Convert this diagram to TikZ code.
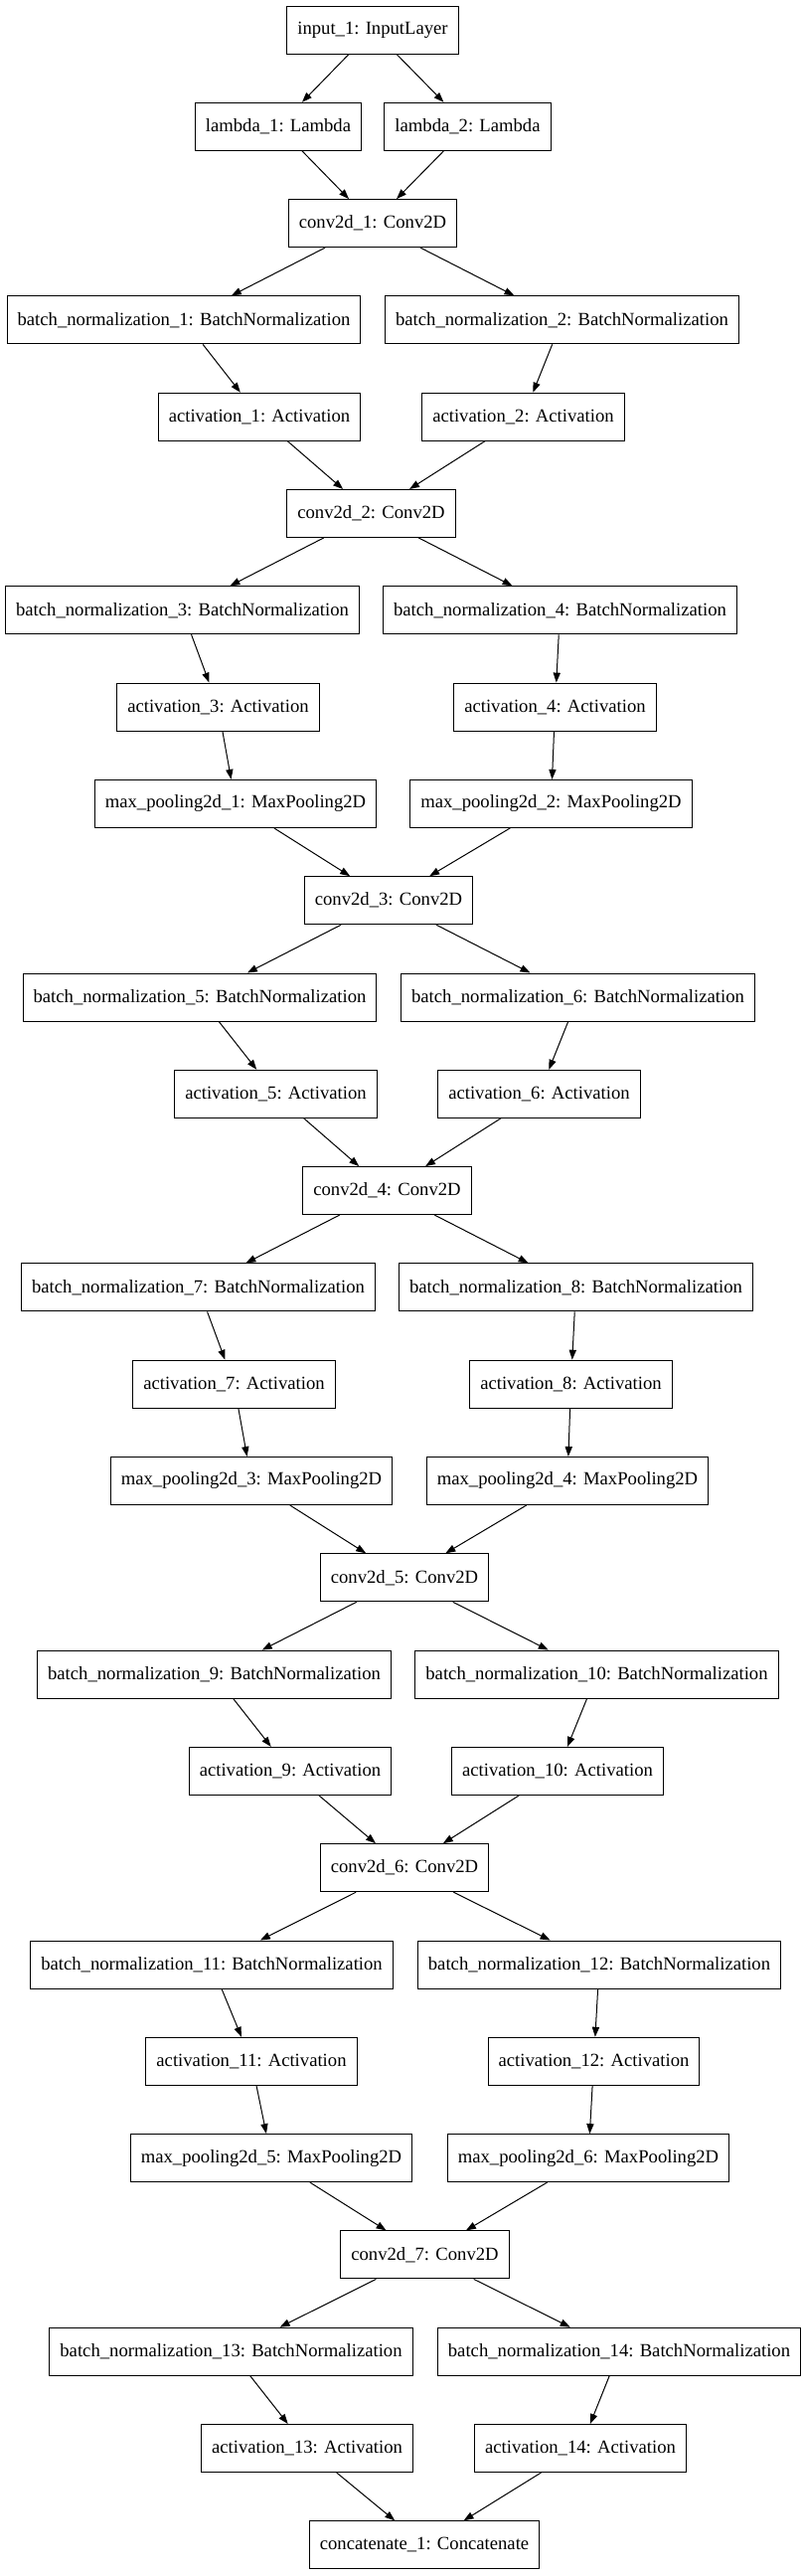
\documentclass[tikz,border=0pt]{standalone}
\usepackage{fontspec}
\setmainfont{Liberation Serif}
\usetikzlibrary{arrows.meta}

\tikzset{
  layerbox/.style={draw,line width=0.75pt,rectangle,minimum height=36pt,
    inner xsep=7.9pt,inner ysep=2pt,font=\fontsize{14pt}{16pt}\selectfont},
  flow/.style={-{Triangle[length=7.5pt,width=5.4pt]},line width=0.75pt}
}

\begin{document}
\begin{tikzpicture}[x=0.75pt,y=-0.75pt]
  \useasboundingbox (0,0) rectangle (807,2591);

  % 输入与 Lambda
  \node[layerbox] (inp)  at (375,30)      {input\_1: InputLayer};
  \node[layerbox] (lam1) at (280,127.3)   {lambda\_1: Lambda};
  \node[layerbox] (lam2) at (470.5,127.3) {lambda\_2: Lambda};

  % 第一块
  \node[layerbox] (conv1) at (375,224.6)   {conv2d\_1: Conv2D};
  \node[layerbox] (bn1)   at (185,321.9)   {batch\_normalization\_1: BatchNormalization};
  \node[layerbox] (bn2)   at (565.5,321.9) {batch\_normalization\_2: BatchNormalization};
  \node[layerbox] (act1)  at (261,419.2)   {activation\_1: Activation};
  \node[layerbox] (act2)  at (526.5,419.2) {activation\_2: Activation};

  % 第二块
  \node[layerbox] (conv2) at (373.5,516.5) {conv2d\_2: Conv2D};
  \node[layerbox] (bn3)   at (183.5,613.8) {batch\_normalization\_3: BatchNormalization};
  \node[layerbox] (bn4)   at (563.5,613.8) {batch\_normalization\_4: BatchNormalization};
  \node[layerbox] (act3)  at (219.5,711.1) {activation\_3: Activation};
  \node[layerbox] (act4)  at (558.5,711.1) {activation\_4: Activation};
  \node[layerbox] (mp1)   at (237,808.4)   {max\_pooling2d\_1: MaxPooling2D};
  \node[layerbox] (mp2)   at (554.5,808.4) {max\_pooling2d\_2: MaxPooling2D};

  % 第三块
  \node[layerbox] (conv3) at (391,905.7)    {conv2d\_3: Conv2D};
  \node[layerbox] (bn5)   at (201,1003)     {batch\_normalization\_5: BatchNormalization};
  \node[layerbox] (bn6)   at (581.5,1003)   {batch\_normalization\_6: BatchNormalization};
  \node[layerbox] (act5)  at (277.5,1100.3) {activation\_5: Activation};
  \node[layerbox] (act6)  at (542.5,1100.3) {activation\_6: Activation};

  % 第四块
  \node[layerbox] (conv4) at (389.5,1197.6) {conv2d\_4: Conv2D};
  \node[layerbox] (bn7)   at (199.5,1294.9) {batch\_normalization\_7: BatchNormalization};
  \node[layerbox] (bn8)   at (579.5,1294.9) {batch\_normalization\_8: BatchNormalization};
  \node[layerbox] (act7)  at (235.5,1392.2) {activation\_7: Activation};
  \node[layerbox] (act8)  at (574.5,1392.2) {activation\_8: Activation};
  \node[layerbox] (mp3)   at (253,1489.5)   {max\_pooling2d\_3: MaxPooling2D};
  \node[layerbox] (mp4)   at (571,1489.5)   {max\_pooling2d\_4: MaxPooling2D};

  % 第五块
  \node[layerbox] (conv5) at (407,1586.8)   {conv2d\_5: Conv2D};
  \node[layerbox] (bn9)   at (215.5,1684.1) {batch\_normalization\_9: BatchNormalization};
  \node[layerbox] (bn10)  at (600.5,1684.1) {batch\_normalization\_10: BatchNormalization};
  \node[layerbox] (act9)  at (292,1781.4)   {activation\_9: Activation};
  \node[layerbox] (act10) at (561,1781.4)   {activation\_10: Activation};

  % 第六块
  \node[layerbox] (conv6) at (407,1878.7)   {conv2d\_6: Conv2D};
  \node[layerbox] (bn11)  at (213,1976)     {batch\_normalization\_11: BatchNormalization};
  \node[layerbox] (bn12)  at (603,1976)     {batch\_normalization\_12: BatchNormalization};
  \node[layerbox] (act11) at (253,2073.3)   {activation\_11: Activation};
  \node[layerbox] (act12) at (597.5,2073.3) {activation\_12: Activation};
  \node[layerbox] (mp5)   at (273,2170.6)   {max\_pooling2d\_5: MaxPooling2D};
  \node[layerbox] (mp6)   at (592,2170.6)   {max\_pooling2d\_6: MaxPooling2D};

  % 第七块与拼接
  \node[layerbox] (conv7) at (427.5,2267.9) {conv2d\_7: Conv2D};
  \node[layerbox] (bn13)  at (232.5,2365.2) {batch\_normalization\_13: BatchNormalization};
  \node[layerbox] (bn14)  at (623,2365.2)   {batch\_normalization\_14: BatchNormalization};
  \node[layerbox] (act13) at (309,2462.5)   {activation\_13: Activation};
  \node[layerbox] (act14) at (584,2462.5)   {activation\_14: Activation};
  \node[layerbox] (cat)   at (427,2559.8)   {concatenate\_1: Concatenate};

  % 连线
  \draw[flow] (inp) -- (lam1);
  \draw[flow] (inp) -- (lam2);
  \draw[flow] (lam1) -- (conv1);
  \draw[flow] (lam2) -- (conv1);

  \draw[flow] (conv1) -- (bn1);
  \draw[flow] (conv1) -- (bn2);
  \draw[flow] (bn1) -- (act1);
  \draw[flow] (bn2) -- (act2);
  \draw[flow] (act1) -- (conv2);
  \draw[flow] (act2) -- (conv2);

  \draw[flow] (conv2) -- (bn3);
  \draw[flow] (conv2) -- (bn4);
  \draw[flow] (bn3) -- (act3);
  \draw[flow] (bn4) -- (act4);
  \draw[flow] (act3) -- (mp1);
  \draw[flow] (act4) -- (mp2);
  \draw[flow] (mp1) -- (conv3);
  \draw[flow] (mp2) -- (conv3);

  \draw[flow] (conv3) -- (bn5);
  \draw[flow] (conv3) -- (bn6);
  \draw[flow] (bn5) -- (act5);
  \draw[flow] (bn6) -- (act6);
  \draw[flow] (act5) -- (conv4);
  \draw[flow] (act6) -- (conv4);

  \draw[flow] (conv4) -- (bn7);
  \draw[flow] (conv4) -- (bn8);
  \draw[flow] (bn7) -- (act7);
  \draw[flow] (bn8) -- (act8);
  \draw[flow] (act7) -- (mp3);
  \draw[flow] (act8) -- (mp4);
  \draw[flow] (mp3) -- (conv5);
  \draw[flow] (mp4) -- (conv5);

  \draw[flow] (conv5) -- (bn9);
  \draw[flow] (conv5) -- (bn10);
  \draw[flow] (bn9) -- (act9);
  \draw[flow] (bn10) -- (act10);
  \draw[flow] (act9) -- (conv6);
  \draw[flow] (act10) -- (conv6);

  \draw[flow] (conv6) -- (bn11);
  \draw[flow] (conv6) -- (bn12);
  \draw[flow] (bn11) -- (act11);
  \draw[flow] (bn12) -- (act12);
  \draw[flow] (act11) -- (mp5);
  \draw[flow] (act12) -- (mp6);
  \draw[flow] (mp5) -- (conv7);
  \draw[flow] (mp6) -- (conv7);

  \draw[flow] (conv7) -- (bn13);
  \draw[flow] (conv7) -- (bn14);
  \draw[flow] (bn13) -- (act13);
  \draw[flow] (bn14) -- (act14);
  \draw[flow] (act13) -- (cat);
  \draw[flow] (act14) -- (cat);
\end{tikzpicture}
\end{document}
